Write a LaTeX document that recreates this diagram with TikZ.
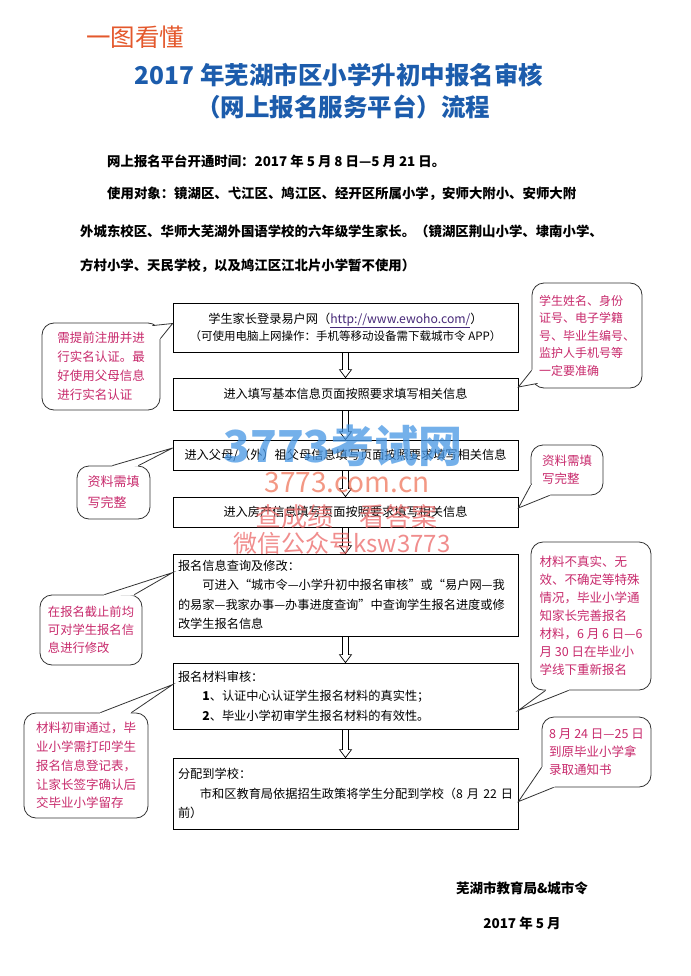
\documentclass[tikz,border=0pt]{standalone}
\usepackage{fontspec}
\setmainfont{Noto Sans CJK SC}
\usetikzlibrary{calc}

\definecolor{headred}{RGB}{228,88,44}
\definecolor{titleblue}{RGB}{28,92,172}
\definecolor{notepink}{RGB}{200,42,108}
\definecolor{urlpurple}{RGB}{70,40,120}
\definecolor{markblue}{RGB}{70,150,228}
\definecolor{marksalmon}{RGB}{240,118,92}
\definecolor{markred}{RGB}{236,104,104}

% hollow arrow between two stages
\newcommand{\flowarrow}[2]{%
  \draw[line width=0.7pt] ($(#1.south)+(-3pt,0)$) -- ($(#2.north)+(-3pt,8pt)$) -- ($(#2.north)+(-6pt,8pt)$) -- (#2.north) -- ($(#2.north)+(6pt,8pt)$) -- ($(#2.north)+(3pt,8pt)$) -- ($(#1.south)+(3pt,0)$);}
% pointer of a balloon: node, base a, base b, tip
\newcommand{\balloontip}[4]{%
  \fill[white] ($#2!1.5pt!(#1.center)$) -- #2 -- #4 -- #3 -- ($#3!1.5pt!(#1.center)$) -- cycle;
  \draw[balloonline] #2 -- #4 -- #3;}

\begin{document}
\begin{tikzpicture}[x=1pt,y=-1pt,
  stage/.style={draw, line width=0.8pt, minimum width=345pt, inner xsep=5pt, font=\fontsize{12.2}{19.5}\selectfont},
  balloon/.style={draw=black!80, line width=0.8pt, rounded corners=12pt, fill=white, text=notepink, align=left, inner sep=0pt},
  balloonline/.style={draw=black!80, line width=0.8pt},
  intro/.style={anchor=west, inner sep=0pt, font=\bfseries\fontsize{13.4}{16}\selectfont},
  wmark/.style={inner sep=0pt, text opacity=0.75}]
\useasboundingbox (0,0) rectangle (690,976);
\fill[white] (0,0) rectangle (690,976);

% heading
\node[font=\fontsize{24.5}{28}\selectfont, text=headred] (tag) at (135,37) {一图看懂};
\node[font=\bfseries\fontsize{24.5}{28}\selectfont, text=titleblue] (title1) at (339,75) {2017 年芜湖市区小学升初中报名审核};
\node[font=\bfseries\fontsize{24.5}{28}\selectfont, text=titleblue] (title2) at (343,107) {（网上报名服务平台）流程};

\node[intro] (open) at (107,161) {网上报名平台开通时间：2017 年 5 月 8 日—5 月 21 日。};
\node[intro] (users1) at (107,194) {使用对象：镜湖区、弋江区、鸠江区、经开区所属小学，安师大附小、安师大附};
\node[intro] (users2) at (80,231) {外城东校区、华师大芜湖外国语学校的六年级学生家长。（镜湖区荆山小学、埭南小学、};
\node[intro] (users3) at (80,266) {方村小学、天民学校，以及鸠江区江北片小学暂不使用）};

% stages
\node[stage, minimum height=49pt, align=center] (b1) at (345.5,327.5) {学生家长登录易户网（\textcolor{urlpurple}{\underline{http://www.ewoho.com/}}）\\[-2pt]
  {\fontsize{11.5}{14}\selectfont （可使用电脑上网操作：手机等移动设备需下载城市令 APP）}};
\node[stage, minimum height=32pt] (b2) at (345.5,394) {进入填写基本信息页面按照要求填写相关信息};
\node[stage, minimum height=30pt] (b3) at (345.5,455) {进入父母/（外）祖父母信息填写页面按照要求填写相关信息};
\node[stage, minimum height=30pt] (b4) at (345.5,512) {进入房产信息填写页面按照要求填写相关信息};
\node[stage, minimum height=82pt, text width=335pt, align=left] (b5) at (345.5,595) {报名信息查询及修改：\\
  \hspace*{2em}可进入“城市令—小学升初中报名审核”或“易户网—我\\
  的易家—我家办事—办事进度查询”中查询学生报名进度或修\\
  改学生报名信息};
\node[stage, minimum height=66pt, text width=335pt, align=left] (b6) at (345.5,696) {报名材料审核：\\
  \hspace*{2em}\textbf{1}、认证中心认证学生报名材料的真实性；\\
  \hspace*{2em}\textbf{2}、毕业小学初审学生报名材料的有效性。};
\node[stage, minimum height=71pt, text width=335pt, align=left] (b7) at (345.5,793.5) {分配到学校：\\
  \hspace*{1.8em}市和区教育局依据招生政策将学生分配到学校（8~月~22~日\\
  前）};

\flowarrow{b1}{b2}
\flowarrow{b2}{b3}
\flowarrow{b3}{b4}
\flowarrow{b4}{b5}
\flowarrow{b5}{b6}
\flowarrow{b6}{b7}

% balloons
\node[balloon, minimum width=118pt, minimum height=87pt, font=\fontsize{12.5}{19}\selectfont] (c1) at (101,366.5) {需提前注册并进\\行实名认证。最\\好使用父母信息\\进行实名认证};
\node[balloon, minimum width=110pt, minimum height=105pt, font=\fontsize{12}{17.5}\selectfont] (c2) at (587,335.5) {学生姓名、身份\\证号、电子学籍\\号、毕业生编号、\\监护人手机号等\\一定要准确};
\node[balloon, minimum width=73pt, minimum height=53pt, font=\fontsize{13}{21}\selectfont] (c3) at (113.5,492.5) {资料需填\\写完整};
\node[balloon, minimum width=72pt, minimum height=50pt, font=\fontsize{12.5}{18}\selectfont] (c4) at (567,470) {资料需填\\写完整};
\node[balloon, minimum width=102pt, minimum height=70pt, font=\fontsize{12.3}{18}\selectfont] (c5) at (91,630) {在报名截止前均\\可对学生报名信\\息进行修改};
\node[balloon, minimum width=120pt, minimum height=148pt, font=\fontsize{12.5}{18}\selectfont] (c6) at (591,616) {材料不真实、无\\效、不确定等特殊\\情况，毕业小学通\\知家长完善报名\\材料，6 月 6 日—6\\月 30 日在毕业小\\学线下重新报名};
\node[balloon, minimum width=124pt, minimum height=105pt, font=\fontsize{12.5}{18.8}\selectfont] (c7) at (86,765.5) {材料初审通过，毕\\业小学需打印学生\\报名信息登记表，\\让家长签字确认后\\交毕业小学留存};
\node[balloon, minimum width=109pt, minimum height=70pt, font=\fontsize{12.5}{18}\selectfont] (c8) at (596.5,752) {8 月 24 日—25 日\\到原毕业小学拿\\录取通知书};

\balloontip{c1}{([xshift=-8pt,yshift=-3pt]c1.north east)}{([yshift=-16pt]c1.north east)}{([yshift=4pt]b1.west)}
\balloontip{c2}{([yshift=18pt]c2.south west)}{([xshift=6pt,yshift=5pt]c2.south west)}{([yshift=7pt]b2.east)}
\balloontip{c3}{([xshift=-38pt]c3.north east)}{([xshift=-12pt]c3.north east)}{([yshift=7pt]b3.west)}
\balloontip{c4}{([yshift=10pt]c4.south west)}{([xshift=19pt]c4.south west)}{([yshift=4pt]b4.east)}
\balloontip{c5}{([xshift=-38pt]c5.north east)}{([xshift=-8pt]c5.north east)}{([yshift=-19pt]b5.north west)}
\balloontip{c6}{([xshift=15pt]c6.south west)}{([xshift=38pt]c6.south west)}{([yshift=19pt]b6.south east)}
\balloontip{c7}{([xshift=-48pt]c7.north east)}{([xshift=-17pt]c7.north east)}{([yshift=-22pt]b6.north west)}
\balloontip{c8}{([yshift=20pt]c8.south west)}{([xshift=12pt]c8.south west)}{([yshift=-44pt]b7.north east)}

% watermarks
\node[wmark, text=markblue, font=\bfseries\fontsize{44}{44}\selectfont] (wm1) at (343,446) {3773考试网};
\node[wmark, text=marksalmon, font=\fontsize{28}{28}\selectfont] (wm2) at (347,483) {3773.com.cn};
\node[wmark, text=markred, font=\fontsize{26}{26}\selectfont] (wm3) at (346,517) {查成绩\hspace{26pt}看答案};
\node[wmark, text=markred, font=\fontsize{24}{24}\selectfont] (wm4) at (342,543) {微信公众号ksw3773};

% signature
\node[font=\bfseries\fontsize{13.5}{16}\selectfont] (sign) at (522,888) {芜湖市教育局\&城市令};
\node[font=\bfseries\fontsize{13.5}{16}\selectfont] (date) at (522,923) {2017 年 5 月};
\end{tikzpicture}
\end{document}
